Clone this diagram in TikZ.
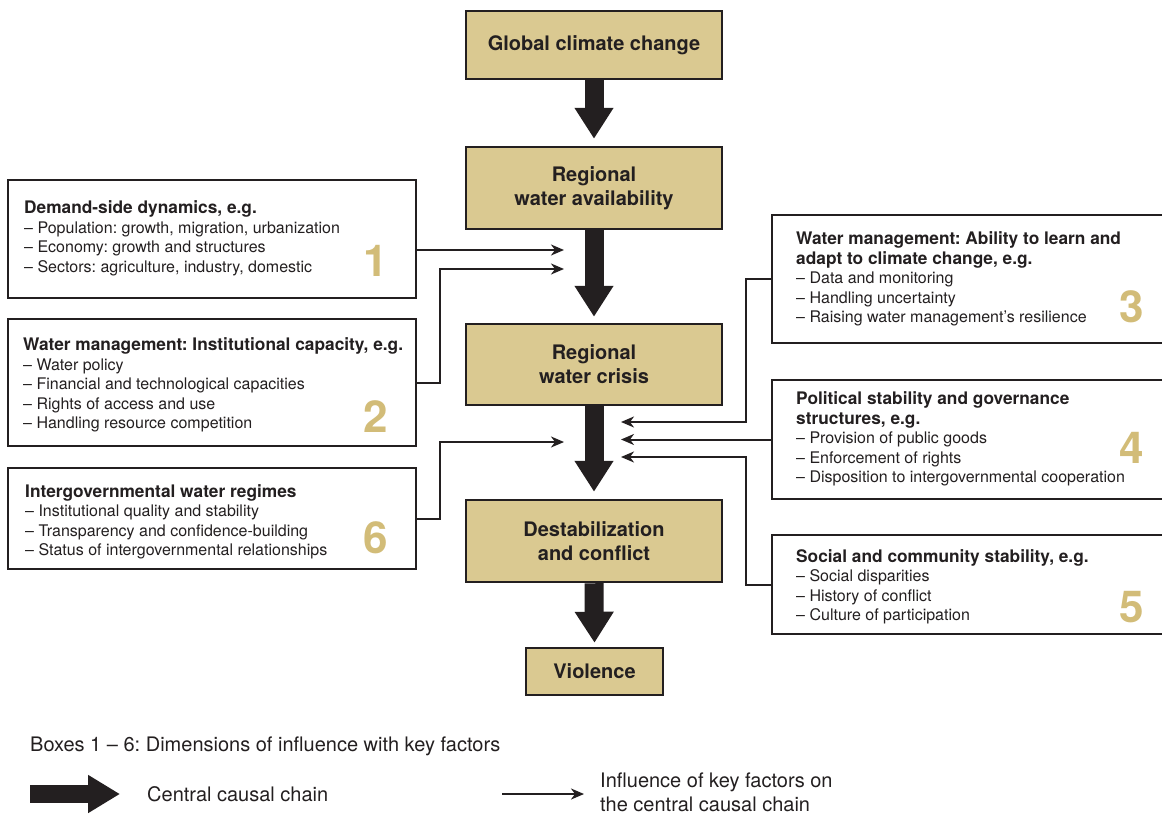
\documentclass[tikz,border=0pt]{standalone}
\usepackage{fontspec}
\setmainfont{TeX Gyre Heros}
\usetikzlibrary{arrows.meta}

\definecolor{chaintan}{HTML}{DAC991}
\definecolor{numtan}{HTML}{D2BC78}
\definecolor{ink}{HTML}{231F20}

% bold heading line inside a factor box
\newcommand{\factorhead}[1]{{\fontsize{17.3}{19.5}\selectfont\bfseries #1}}

\begin{document}
\frenchspacing
\begin{tikzpicture}[x=1pt,y=-1pt,
  chainbox/.style={draw=ink, fill=chaintan, line width=2.5pt, inner sep=0pt,
    align=center, text=ink, font=\fontsize{20}{24}\selectfont\bfseries},
  factorbox/.style={draw=ink, line width=2pt, inner sep=0pt},
  factortext/.style={anchor=north west, inner sep=0pt, align=left, text=ink,
    font=\fontsize{16}{19.5}\selectfont},
  boxnum/.style={text=numtan, inner sep=0pt, font=\fontsize{44}{44}\selectfont\bfseries},
  causal/.style={draw=ink, line width=19pt, -{Triangle[length=31pt,width=37pt]}},
  influence/.style={draw=ink, line width=2pt, -{Stealth[length=13pt,width=11pt,inset=4pt]}},
  legendtext/.style={inner sep=0pt, align=left, text=ink, font=\fontsize{20}{24}\selectfont},
]
\useasboundingbox (0,0) rectangle (1162,815);

% central causal chain
\node[chainbox, minimum width=256pt, minimum height=68pt] (global)   at (594,45)    {Global climate change};
\node[chainbox, minimum width=256pt, minimum height=82pt] (avail)    at (594,188)   {Regional\\water availability};
\node[chainbox, minimum width=256pt, minimum height=81pt] (crisis)   at (594,364.5) {Regional\\water crisis};
\node[chainbox, minimum width=256pt, minimum height=82pt] (destab)   at (594,541)   {Destabilization\\and conflict};
\node[chainbox, minimum width=137pt, minimum height=47pt] (violence) at (594.5,671.5) {Violence};

\draw[causal] (global.south) -- ([yshift=7pt]avail.north);
\draw[causal] (avail.south)  -- ([yshift=6pt]crisis.north);
\draw[causal] (crisis.south) -- ([yshift=7pt]destab.north);
\draw[causal] (destab.south) -- ([yshift=4pt]violence.north);

% factor boxes, left
\node[factorbox, minimum width=408pt, minimum height=118pt] (f1) at (212,239) {};
\node[factorbox, minimum width=408pt, minimum height=127pt] (f2) at (212,382.5) {};
\node[factorbox, minimum width=408pt, minimum height=101pt] (f6) at (212,518.5) {};
% factor boxes, right
\node[factorbox, minimum width=400pt, minimum height=128pt] (f3) at (972,279) {};
\node[factorbox, minimum width=400pt, minimum height=119pt] (f4) at (972,439.5) {};
\node[factorbox, minimum width=400pt, minimum height=99pt]  (f5) at (972,584.5) {};

\node[factortext] (t1text) at (24,200.6) {\factorhead{Demand-side dynamics, e.g.}\\
  – Population: growth, migration, urbanization\\
  – Economy: growth and structures\\
  – Sectors: agriculture, industry, domestic};
\node[factortext] (t2text) at (23,337.6) {\factorhead{Water management: Institutional capacity, e.g.}\\
  – Water policy\\
  – Financial and technological capacities\\
  – Rights of access and use\\
  – Handling resource competition};
\node[factortext] (t6text) at (25,484.3) {\factorhead{Intergovernmental water regimes}\\
  – Institutional quality and stability\\
  – Transparency and confidence-building\\
  – Status of intergovernmental relationships};
\node[factortext] (t3text) at (796,231.6) {\factorhead{Water management: Ability to learn and}\\
  \factorhead{adapt to climate change, e.g.}\\
  – Data and monitoring\\
  – Handling uncertainty\\
  – Raising water management’s resilience};
\node[factortext] (t4text) at (796,391.9) {\factorhead{Political stability and governance}\\
  \factorhead{structures, e.g.}\\
  – Provision of public goods\\
  – Enforcement of rights\\
  – Disposition to intergovernmental cooperation};
\node[factortext] (t5text) at (796,549.3) {\factorhead{Social and community stability, e.g.}\\
  – Social disparities\\
  – History of conflict\\
  – Culture of participation};

\node[boxnum] (n1) at (376,261) {1};
\node[boxnum] (n2) at (376,417) {2};
\node[boxnum] (n6) at (376,538) {6};
\node[boxnum] (n3) at (1132,307) {3};
\node[boxnum] (n4) at (1132,448) {4};
\node[boxnum] (n5) at (1132,607) {5};

% influence connectors
\coordinate (p1) at (564,250);
\coordinate (p2) at (564,269);
\coordinate (p6) at (564,442);
\coordinate (p3) at (621,422);
\coordinate (p4) at (621,439.5);
\coordinate (p5) at (621,457);

\draw[influence] (f1.east |- p1) -- (p1);
\draw[influence] (f2.east) -- ++(23pt,0) |- (p2);
\draw[influence] (f6.east) -- ++(23pt,0) |- (p6);
\draw[influence] (f3.west) -- ++(-25pt,0) |- (p3);
\draw[influence] (f4.west) -- (p4);
\draw[influence] (f5.west) -- ++(-25pt,0) |- (p5);

% legend
\node[legendtext, anchor=base west] (legtitle) at (30,751) {Boxes 1 – 6: Dimensions of influence with key factors};
\coordinate (la) at (30,794);
\coordinate (lb) at (120,794);
\draw[draw=ink, line width=18pt, -{Triangle[length=32pt,width=36pt]}] (la) -- (lb);
\node[legendtext, anchor=base west] (legchain) at (147,801) {Central causal chain};
\coordinate (lc) at (502,794);
\coordinate (ld) at (584,794);
\draw[influence] (lc) -- (ld);
\node[legendtext, anchor=west] (leginfl) at (600,792) {Influence of key factors on\\the central causal chain};
\end{tikzpicture}
\end{document}
